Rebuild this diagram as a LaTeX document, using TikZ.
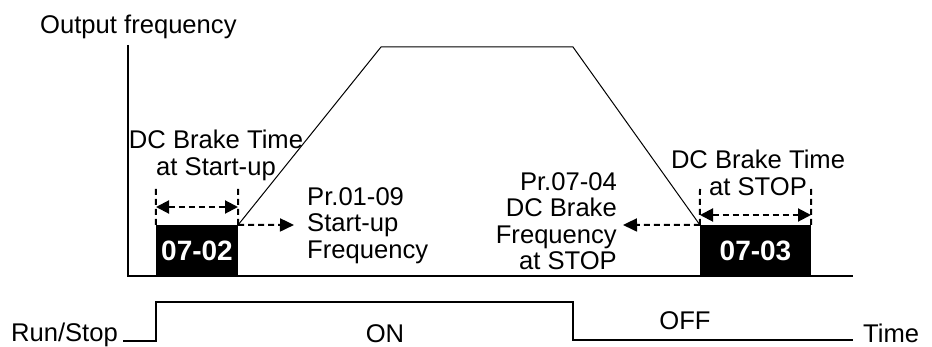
\documentclass[tikz,border=0pt]{standalone}
\usepackage{fontspec}
\setmainfont{Liberation Sans}
\usetikzlibrary{arrows.meta}
\tikzset{
  lbl/.style = {font=\fontsize{25.6}{26.5}\selectfont, inner sep=0pt},
  brkbox/.style = {fill=black, text=white, inner sep=0pt, minimum height=51pt,
                   font=\fontsize{28}{28}\selectfont\bfseries},
  dasharr/.style = {line width=2pt, dash pattern=on 6pt off 4pt,
                    -{Triangle[length=14pt,width=13pt]}},
  dblarr/.style = {line width=2pt, dash pattern=on 6pt off 4pt,
                   {Triangle[length=13pt,width=13pt]}-{Triangle[length=13pt,width=13pt]}},
  tick/.style = {line width=2pt, dash pattern=on 6pt off 4pt}
}
\begin{document}
\begin{tikzpicture}[x=1pt,y=-1pt]
\useasboundingbox (0,0) rectangle (932,347);
% axes
\coordinate (orig) at (128,276);
\coordinate (ytop) at (128,45);
\coordinate (xend) at (853,276);
\draw[line width=2.5pt] (ytop) -- (orig) -- (xend);
\node[lbl, anchor=base west] (yl) at (40,34) {Output frequency};
% DC brake blocks
\node[brkbox, minimum width=82pt] (brk1) at (197,250.5) {07-02};
\node[brkbox, minimum width=111pt] (brk2) at (755.5,250.5) {07-03};
% frequency curve
\coordinate (top1) at (381,47);
\coordinate (top2) at (573,47);
\draw[line width=1pt] (brk1.north east) -- (top1) -- (top2) -- (brk2.north west);
% brake time marks
\coordinate (t1a) at (156,188);
\coordinate (t1b) at (238,188);
\coordinate (t2a) at (700,189);
\coordinate (t2b) at (811,189);
\draw[tick] (brk1.north west) -- (t1a);
\draw[tick] (brk1.north east) -- (t1b);
\draw[tick] (brk2.north west) -- (t2a);
\draw[tick] (brk2.north east) -- (t2b);
\draw[dblarr] ([yshift=-19pt]t1a) -- ([yshift=-19pt]t1b);
\draw[dblarr] ([yshift=-26pt]t2a) -- ([yshift=-26pt]t2b);
\node[lbl, align=center, anchor=north] (bt1) at (216,130) {DC Brake Time\\at Start-up};
\node[lbl, align=center, anchor=north] (bt2) at (758,150) {DC Brake Time\\at STOP};
% start-up and stop frequency
\coordinate (f1) at (294,225);
\coordinate (f2) at (623,225);
\draw[dasharr] (brk1.north east) -- (f1);
\draw[dasharr] (brk2.north west) -- (f2);
\node[lbl, align=left, anchor=north west] (pr1) at (307,187) {Pr.01-09\\Start-up\\Frequency};
\node[lbl, align=right, anchor=north east] (pr2) at (617,172) {Pr.07-04\\DC Brake\\Frequency\\at STOP};
% run/stop signal
\node[lbl, anchor=base east] (rs) at (118,342) {Run/Stop};
\coordinate (s0) at (123,341);
\coordinate (s1) at (156,341);
\coordinate (s2) at (156,302);
\coordinate (s3) at (573,302);
\coordinate (s4) at (573,340);
\coordinate (s5) at (853,340);
\draw[line width=1.3pt] (s0) -- (s1) -- (s2) -- (s3) -- (s4) -- (s5);
\node[lbl, anchor=base] (on) at (385,343) {ON};
\node[lbl, anchor=base] (off) at (685,330) {OFF};
\node[lbl, anchor=base west] (tm) at (863,343) {Time};
\end{tikzpicture}
\end{document}
